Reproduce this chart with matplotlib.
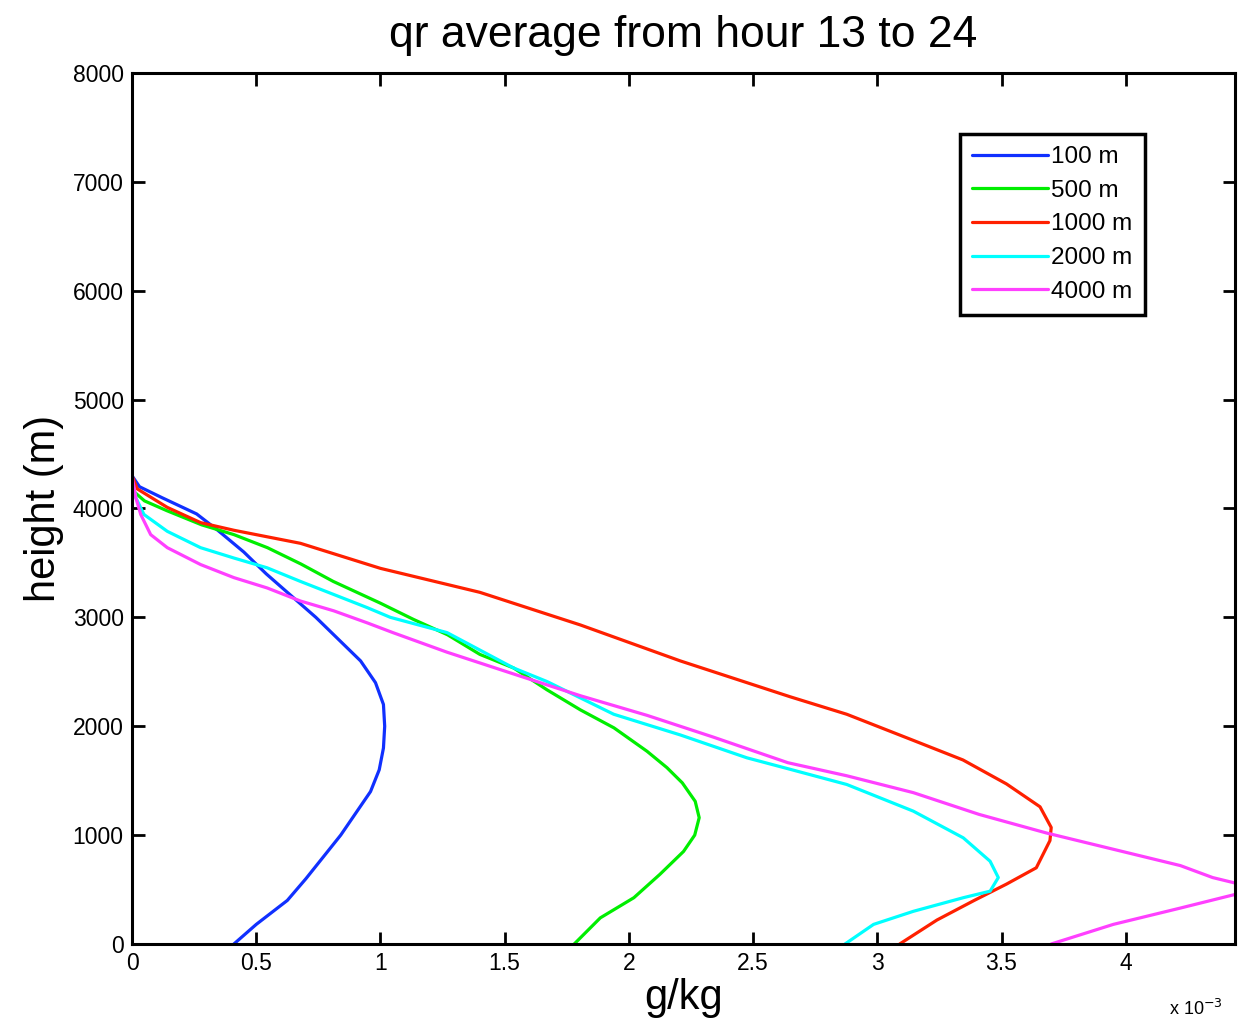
import matplotlib
matplotlib.use("Agg")
import matplotlib.pyplot as plt
from matplotlib.ticker import FixedLocator, FuncFormatter

plt.rcParams['font.family'] = ['Liberation Sans', 'DejaVu Sans']

# values in units of 1e-3 g/kg, heights in m
h_100 = [0, 180, 400, 600, 800, 1000, 1200, 1400, 1600, 1800, 2000, 2200, 2400, 2600,
         2800, 3000, 3200, 3400, 3600, 3800, 3950, 4100, 4200, 4300, 8000]
q_100 = [0.41, 0.50, 0.625, 0.70, 0.77, 0.84, 0.90, 0.96, 0.995, 1.012, 1.017, 1.012, 0.98, 0.92,
         0.83, 0.74, 0.64, 0.54, 0.45, 0.345, 0.26, 0.12, 0.03, 0.0, 0.0]

h_500 = [0, 240, 425, 640, 850, 1000, 1160, 1310, 1480, 1620, 1770, 1985, 2150, 2335, 2535,
         2660, 2840, 2980, 3130, 3330, 3490, 3640, 3760, 3850, 3980, 4070, 4150, 4250, 8000]
q_500 = [1.78, 1.885, 2.02, 2.125, 2.22, 2.265, 2.283, 2.267, 2.215, 2.153, 2.073, 1.94, 1.805,
         1.67, 1.536, 1.40, 1.27, 1.134, 1.0, 0.81, 0.68, 0.545, 0.41, 0.28, 0.14, 0.05, 0.01, 0, 0]

h_1000 = [0, 220, 400, 550, 700, 950, 1070, 1260, 1470, 1690, 1870, 2110, 2270, 2600, 2930,
          3230, 3450, 3680, 3800, 3870, 4010, 4180, 4300, 8000]
q_1000 = [3.09, 3.24, 3.39, 3.52, 3.64, 3.695, 3.70, 3.655, 3.52, 3.345, 3.145, 2.877, 2.65,
          2.207, 1.805, 1.40, 1.0, 0.678, 0.41, 0.276, 0.142, 0.021, 0, 0]

h_2000 = [0, 180, 300, 425, 485, 610, 760, 975, 1220, 1465, 1610, 1710, 1920, 2110, 2410,
          2535, 2860, 3000, 3090, 3210, 3330, 3455, 3545, 3640, 3790, 3945, 4100, 4250, 8000]
q_2000 = [2.87, 2.985, 3.145, 3.346, 3.454, 3.487, 3.454, 3.346, 3.145, 2.877, 2.64, 2.475,
          2.207, 1.939, 1.671, 1.536, 1.268, 1.04, 0.946, 0.812, 0.678, 0.544, 0.41, 0.276,
          0.142, 0.048, 0.015, 0, 0]

h_4000 = [0, 180, 330, 455, 500, 560, 610, 720, 870, 1020, 1190, 1390, 1545, 1665, 1900, 2100,
          2280, 2480, 2680, 2860, 2950, 3060, 3150, 3270, 3365, 3485, 3640, 3760, 3945, 4100,
          4300, 8000]
q_4000 = [3.70, 3.95, 4.22, 4.44, 4.47, 4.44, 4.35, 4.22, 3.95, 3.68, 3.41, 3.145, 2.877, 2.64,
          2.34, 2.073, 1.805, 1.536, 1.268, 1.05, 0.946, 0.812, 0.678, 0.544, 0.41, 0.276,
          0.142, 0.075, 0.035, 0.015, 0, 0]

labels = ['100 m', '500 m', '1000 m', '2000 m', '4000 m']
colors = ['#1030ff', '#00ee00', '#ff2000', '#00ffff', '#ff40ff']
series = [(q_100, h_100), (q_500, h_500), (q_1000, h_1000), (q_2000, h_2000), (q_4000, h_4000)]

xticks = [0, 0.5, 1, 1.5, 2, 2.5, 3, 3.5, 4]
yticks = [0, 1000, 2000, 3000, 4000, 5000, 6000, 7000, 8000]

fig = plt.figure(figsize=(12.41, 10.31), dpi=100)
ax = fig.add_axes([0.1064, 0.0844, 0.8888, 0.8448])

for (q, h), lab, c in zip(series, labels, colors):
    ax.plot(q, h, color=c, lw=2.3, label=lab, solid_joinstyle='round',
            solid_capstyle='round')

ax.set_xlim(0, 4.44)
ax.set_ylim(0, 8000)
ax.xaxis.set_major_locator(FixedLocator(xticks))
ax.yaxis.set_major_locator(FixedLocator(yticks))
ax.xaxis.set_major_formatter(FuncFormatter(lambda v, p: '%g' % v))
ax.yaxis.set_major_formatter(FuncFormatter(lambda v, p: '%d' % v))
ax.tick_params(direction='in', length=9, width=2, top=True, right=True,
               labelsize=16.5, pad=6)
for s in ax.spines.values():
    s.set_linewidth(2.2)

ax.set_title('qr average from hour 13 to 24', fontsize=32, pad=19)
ax.set_xlabel('g/kg', fontsize=30, labelpad=2)
ax.set_ylabel('height (m)', fontsize=30, labelpad=6)

fig.text(0.985, 0.012, r'x 10$^{-3}$', fontsize=13, ha='right', va='bottom')

leg = ax.legend(loc='upper right', bbox_to_anchor=(0.918, 0.93), fontsize=17.5,
                handlelength=3.1, handletextpad=0.15, labelspacing=0.48,
                borderpad=0.5, fancybox=False, framealpha=1, borderaxespad=0)
leg.get_frame().set_edgecolor('black')
leg.get_frame().set_linewidth(2.5)

fig.savefig('out.png', dpi=100)
